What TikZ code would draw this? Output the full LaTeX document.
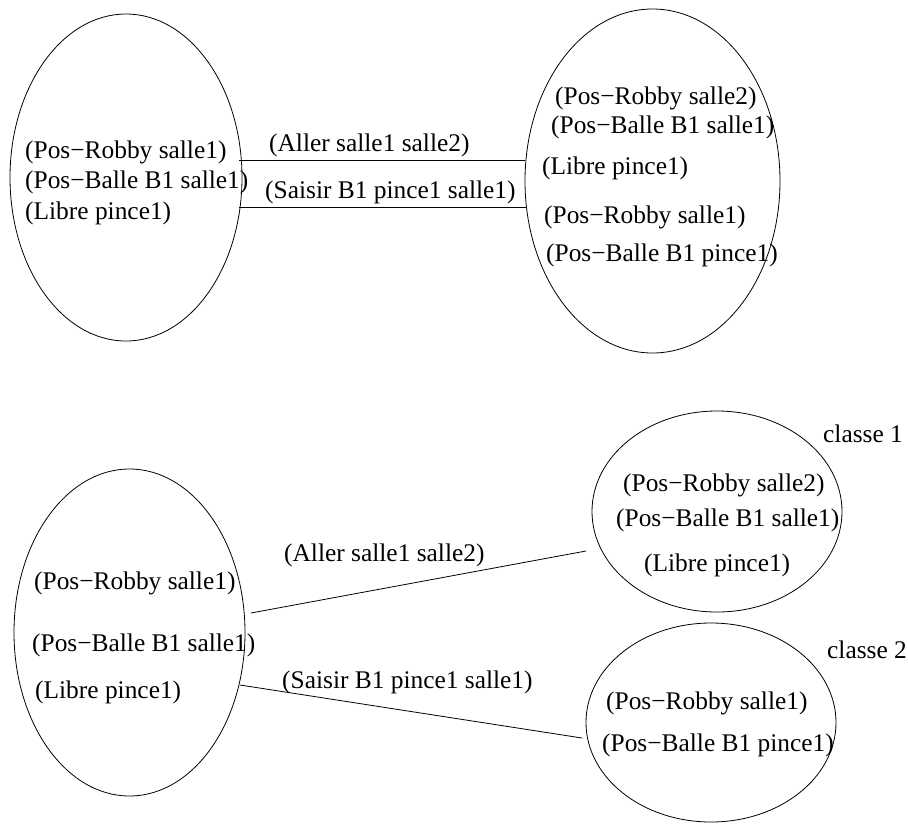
\documentclass[tikz,border=0pt]{standalone}
\usepackage{fontspec}
\setmainfont{Liberation Serif}
\usetikzlibrary{shapes.geometric}
\begin{document}
\begin{tikzpicture}[x=1pt,y=-1pt,
  state/.style={draw, ellipse, line width=0.8pt, inner sep=0pt},
  fact/.style={anchor=base west, inner sep=0pt, font=\fontsize{25.4}{30}\selectfont},
  link/.style={draw, line width=0.8pt}]
\useasboundingbox (0,0) rectangle (908,823);

% ---------- upper diagram ----------
\node[state, minimum width=232pt, minimum height=327pt] (s0) at (126,177.5) {};
\node[state, minimum width=255pt, minimum height=344pt] (s1) at (652.5,181) {};

\node[fact] (s0a) at (25,158)   {(Pos−Robby salle1)};
\node[fact] (s0b) at (25,188)   {(Pos−Balle B1 salle1)};
\node[fact] (s0c) at (25,219)   {(Libre pince1)};

\node[fact] (s1a) at (555,104.5) {(Pos−Robby salle2)};
\node[fact] (s1b) at (551,133.5) {(Pos−Balle B1 salle1)};
\node[fact] (s1c) at (542,174.5) {(Libre pince1)};
\node[fact] (s1d) at (544,223.5) {(Pos−Robby salle1)};
\node[fact] (s1e) at (546,261.5) {(Pos−Balle B1 pince1)};

\coordinate (a1) at (239,160);
\coordinate (b1) at (525,160);
\coordinate (a2) at (239,207);
\coordinate (b2) at (527,207);
\draw[link] (a1) -- (b1);
\draw[link] (a2) -- (b2);
\node[fact] (l1) at (269,151.5) {(Aller salle1 salle2)};
\node[fact] (l2) at (265,198.5) {(Saisir B1 pince1 salle1)};

% ---------- lower diagram ----------
\node[state, minimum width=231pt, minimum height=327pt] (t0) at (129.5,632.5) {};
\node[state, minimum width=250pt, minimum height=201pt] (t1) at (717,511.5) {};
\node[state, minimum width=250pt, minimum height=199pt] (t2) at (711,722.5) {};

\node[fact] (t0a) at (34,589.5) {(Pos−Robby salle1)};
\node[fact] (t0b) at (32,651.5) {(Pos−Balle B1 salle1)};
\node[fact] (t0c) at (35,698.5) {(Libre pince1)};

\node[fact] (t1a) at (623,491.5) {(Pos−Robby salle2)};
\node[fact] (t1b) at (616,526.5) {(Pos−Balle B1 salle1)};
\node[fact] (t1c) at (644,571.5) {(Libre pince1)};

\node[fact] (t2a) at (606,709.5) {(Pos−Robby salle1)};
\node[fact] (t2b) at (602,751.5) {(Pos−Balle B1 pince1)};

\node[fact] (c1) at (823,442) {classe 1};
\node[fact] (c2) at (827,658) {classe 2};

\coordinate (p1) at (251,613);
\coordinate (q1) at (586,551);
\coordinate (p2) at (240,685);
\coordinate (q2) at (582,738);
\draw[link] (p1) -- (q1);
\draw[link] (p2) -- (q2);
\node[fact] (m1) at (284,561.5) {(Aller salle1 salle2)};
\node[fact] (m2) at (282,688.5) {(Saisir B1 pince1 salle1)};
\end{tikzpicture}
\end{document}
